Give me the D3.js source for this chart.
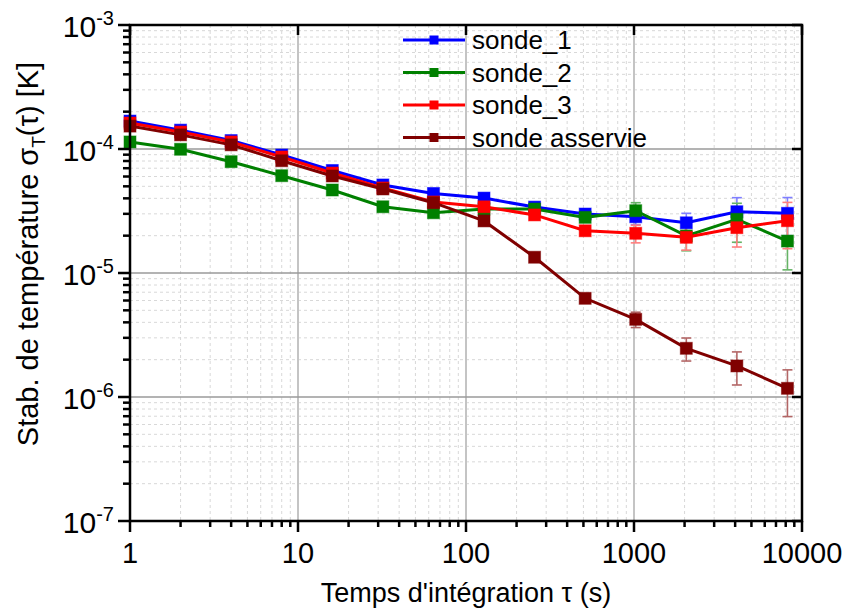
<!DOCTYPE html>
<html>
<head>
<meta charset="utf-8">
<script src="https://cdn.jsdelivr.net/npm/d3@7"></script>
<style>
  body { margin: 0; background: #fff; }
  svg text { font-family: Arial, "Liberation Sans", sans-serif; fill: #000; }
</style>
</head>
<body>
<div id="chart"></div>
<script>
// Data
const tau = [1, 2, 4, 8, 16, 32, 64, 128, 256, 512, 1024, 2048, 4096, 8192];

const sonde1 = [1.68e-4, 1.42e-4, 1.17e-4, 8.95e-5, 6.71e-5, 5.13e-5, 4.38e-5, 4.02e-5, 3.40e-5, 2.99e-5, 2.84e-5, 2.54e-5, 3.12e-5, 3.03e-5];
const sonde2 = [1.14e-4, 9.95e-5, 7.90e-5, 6.09e-5, 4.67e-5, 3.42e-5, 3.06e-5, 3.28e-5, 3.28e-5, 2.81e-5, 3.18e-5, 1.99e-5, 2.71e-5, 1.81e-5];
const sonde3 = [1.62e-4, 1.37e-4, 1.14e-4, 8.62e-5, 6.40e-5, 4.85e-5, 3.74e-5, 3.42e-5, 2.94e-5, 2.19e-5, 2.09e-5, 1.94e-5, 2.32e-5, 2.64e-5];
const asservie = [1.53e-4, 1.30e-4, 1.08e-4, 8.04e-5, 6.06e-5, 4.76e-5, 3.69e-5, 2.63e-5, 1.34e-5, 6.25e-6, 4.23e-6, 2.47e-6, 1.78e-6, 1.175e-6];

// error bars (± absolute)
const err1 = [1e-7, 1e-7, 1e-7, 1e-7, 2e-7, 2e-7, 3e-7, 4e-7, 5e-7, 1e-6, 3.9e-6, 4.9e-6, 9.3e-6, 1.03e-5];
const err2 = [1e-7, 1e-7, 1e-7, 1e-7, 2e-7, 2e-7, 3e-7, 4e-7, 5e-7, 1e-6, 5.1e-6, 4.8e-6, 9.4e-6, 7.5e-6];
const err3 = [1e-7, 1e-7, 1e-7, 1e-7, 2e-7, 2e-7, 3e-7, 4e-7, 5e-7, 1.2e-6, 3.4e-6, 4.1e-6, 7.0e-6, 1.07e-5];
const errA = [1e-7, 1e-7, 1e-7, 1e-7, 1e-7, 1e-7, 1e-7, 1e-7, 1e-7, 3e-7, 6.0e-7, 5.2e-7, 5.3e-7, 4.8e-7];

const seriesNames = ["sonde_1", "sonde_2", "sonde_3", "sonde asservie"];
const seriesColors = ["#0000ff", "#008000", "#ff0000", "#800000"];
const errColors = ["#7f7fff", "#66b366", "#ff7f7f", "#b36666"];

const xTicks = [1, 10, 100, 1000, 10000];
const yExp = [-7, -6, -5, -4, -3];

const series = seriesNames.map((name, i) => ({
  name: name,
  color: seriesColors[i],
  errColor: errColors[i],
  values: [sonde1, sonde2, sonde3, asservie][i].map((v, j) => ({
    t: tau[j],
    v: v,
    e: [err1, err2, err3, errA][i][j],
  })),
}));

const W = 849, H = 610;
const m = { left: 130, right: 802, top: 25, bottom: 521 };

const svg = d3.select("#chart").append("svg").attr("width", W).attr("height", H);

const x = d3.scaleLog().domain([1, 10000]).range([m.left, m.right]);
const y = d3.scaleLog().domain([1e-7, 1e-3]).range([m.bottom, m.top]);

// minor tick values
const xMinor = [];
for (let d = 1; d < 10000; d *= 10) for (let k = 2; k <= 9; k++) xMinor.push(d * k);
const yMinor = [];
for (let e = -7; e < -3; e++) for (let k = 2; k <= 9; k++) yMinor.push(k * Math.pow(10, e));

// Grid
const grid = svg.append("g");
grid.selectAll(".xminor").data(xMinor).enter().append("line")
  .attr("x1", (d) => x(d)).attr("x2", (d) => x(d))
  .attr("y1", m.top).attr("y2", m.bottom)
  .attr("stroke", "#d8d8d8").attr("stroke-width", 1).attr("stroke-dasharray", "3,3");
grid.selectAll(".yminor").data(yMinor).enter().append("line")
  .attr("x1", m.left).attr("x2", m.right)
  .attr("y1", (d) => y(d)).attr("y2", (d) => y(d))
  .attr("stroke", "#d8d8d8").attr("stroke-width", 1).attr("stroke-dasharray", "3,3");
grid.selectAll(".xmajor").data(xTicks.slice(1, -1)).enter().append("line")
  .attr("x1", (d) => x(d)).attr("x2", (d) => x(d))
  .attr("y1", m.top).attr("y2", m.bottom)
  .attr("stroke", "#c4c4c4").attr("stroke-width", 2);
grid.selectAll(".ymajor").data(yExp.slice(1, -1)).enter().append("line")
  .attr("x1", m.left).attr("x2", m.right)
  .attr("y1", (d) => y(Math.pow(10, d))).attr("y2", (d) => y(Math.pow(10, d)))
  .attr("stroke", "#9a9a9a").attr("stroke-width", 1.3);

// Error bars
const errG = svg.append("g");
series.forEach((s) => {
  const g = errG.append("g");
  const pts = s.values.filter((d) => d.e > 0);
  g.selectAll("line.v").data(pts).enter().append("line")
    .attr("x1", (d) => x(d.t)).attr("x2", (d) => x(d.t))
    .attr("y1", (d) => y(d.v + d.e)).attr("y2", (d) => y(Math.max(d.v - d.e, 1e-8)))
    .attr("stroke", s.errColor).attr("stroke-width", 1.6);
  ["+", "-"].forEach((sign) => {
    g.selectAll("line.c" + (sign === "+" ? "p" : "m")).data(pts).enter().append("line")
      .attr("x1", (d) => x(d.t) - 5).attr("x2", (d) => x(d.t) + 5)
      .attr("y1", (d) => y(sign === "+" ? d.v + d.e : d.v - d.e))
      .attr("y2", (d) => y(sign === "+" ? d.v + d.e : d.v - d.e))
      .attr("stroke", s.errColor).attr("stroke-width", 1.6);
  });
});

// Lines and markers
const line = d3.line().x((d) => x(d.t)).y((d) => y(d.v));
series.forEach((s) => {
  const g = svg.append("g");
  g.append("path").datum(s.values)
    .attr("d", line).attr("fill", "none")
    .attr("stroke", s.color).attr("stroke-width", 3);
  g.selectAll("rect").data(s.values).enter().append("rect")
    .attr("x", (d) => x(d.t) - 6).attr("y", (d) => y(d.v) - 6)
    .attr("width", 12).attr("height", 12)
    .attr("fill", s.color)
    .attr("stroke", s.color).attr("stroke-opacity", 0.5).attr("stroke-width", 1);
});

// Frame
svg.append("rect")
  .attr("x", m.left).attr("y", m.top)
  .attr("width", m.right - m.left).attr("height", m.bottom - m.top)
  .attr("fill", "none").attr("stroke", "#000").attr("stroke-width", 2.5);

// Bottom axis ticks (outward)
const axes = svg.append("g").attr("stroke", "#000");
axes.selectAll(".bxM").data(xTicks).enter().append("line")
  .attr("x1", (d) => x(d)).attr("x2", (d) => x(d))
  .attr("y1", m.bottom).attr("y2", m.bottom + 11).attr("stroke-width", 2.5);
axes.selectAll(".bxm").data(xMinor).enter().append("line")
  .attr("x1", (d) => x(d)).attr("x2", (d) => x(d))
  .attr("y1", m.bottom).attr("y2", m.bottom + 6).attr("stroke-width", 2.5);
// Top ticks (inward)
axes.selectAll(".txM").data(xTicks).enter().append("line")
  .attr("x1", (d) => x(d)).attr("x2", (d) => x(d))
  .attr("y1", m.top).attr("y2", m.top + 10).attr("stroke-width", 2.5);
// Left axis ticks (outward)
axes.selectAll(".lyM").data(yExp).enter().append("line")
  .attr("x1", m.left - 12).attr("x2", m.left)
  .attr("y1", (d) => y(Math.pow(10, d))).attr("y2", (d) => y(Math.pow(10, d)))
  .attr("stroke-width", 2.5);
axes.selectAll(".lym").data(yMinor).enter().append("line")
  .attr("x1", m.left - 7).attr("x2", m.left)
  .attr("y1", (d) => y(d)).attr("y2", (d) => y(d))
  .attr("stroke-width", 2.5);
// Right ticks (inward)
axes.selectAll(".ryM").data(yExp).enter().append("line")
  .attr("x1", m.right - 10).attr("x2", m.right)
  .attr("y1", (d) => y(Math.pow(10, d))).attr("y2", (d) => y(Math.pow(10, d)))
  .attr("stroke-width", 2.5);

// Tick labels
svg.selectAll(".xlab").data(xTicks).enter().append("text")
  .attr("x", (d) => x(d)).attr("y", m.bottom + 42)
  .attr("text-anchor", "middle").style("font-size", "29px")
  .text((d) => d);

const ylab = svg.selectAll(".ylab").data(yExp).enter().append("text")
  .attr("x", 0).attr("y", (d) => y(Math.pow(10, d)) + 12)
  .attr("text-anchor", "end")
  .attr("transform", "translate(114,0)");
ylab.append("tspan").style("font-size", "30px").text("10");
ylab.append("tspan").style("font-size", "20px").attr("dy", -12).text((d) => "-" + Math.abs(d));

// Axis titles
svg.append("text")
  .attr("x", (m.left + m.right) / 2).attr("y", 602)
  .attr("text-anchor", "middle").style("font-size", "27px")
  .text("Temps d'intégration τ (s)");

const yt = svg.append("text")
  .attr("transform", "translate(38,254) rotate(-90)")
  .attr("text-anchor", "middle").style("font-size", "29px");
yt.append("tspan").text("Stab. de température σ");
yt.append("tspan").style("font-size", "19px").attr("dy", 7).text("T");
yt.append("tspan").attr("dy", -7).text("(τ) [K]");

// Legend
const legend = svg.append("g").attr("transform", "translate(403,40)");
series.forEach((s, i) => {
  const row = legend.append("g").attr("transform", `translate(0,${i * 32.5})`);
  row.append("line").attr("x1", 0).attr("x2", 62).attr("y1", 0).attr("y2", 0)
    .attr("stroke", s.color).attr("stroke-width", 3);
  row.append("rect").attr("x", 31 - 4.5).attr("y", -4.5)
    .attr("width", 9).attr("height", 9).attr("fill", s.color);
  row.append("text").attr("x", 69).attr("y", 9)
    .style("font-size", "26px").text(s.name);
});
</script>
</body>
</html>
